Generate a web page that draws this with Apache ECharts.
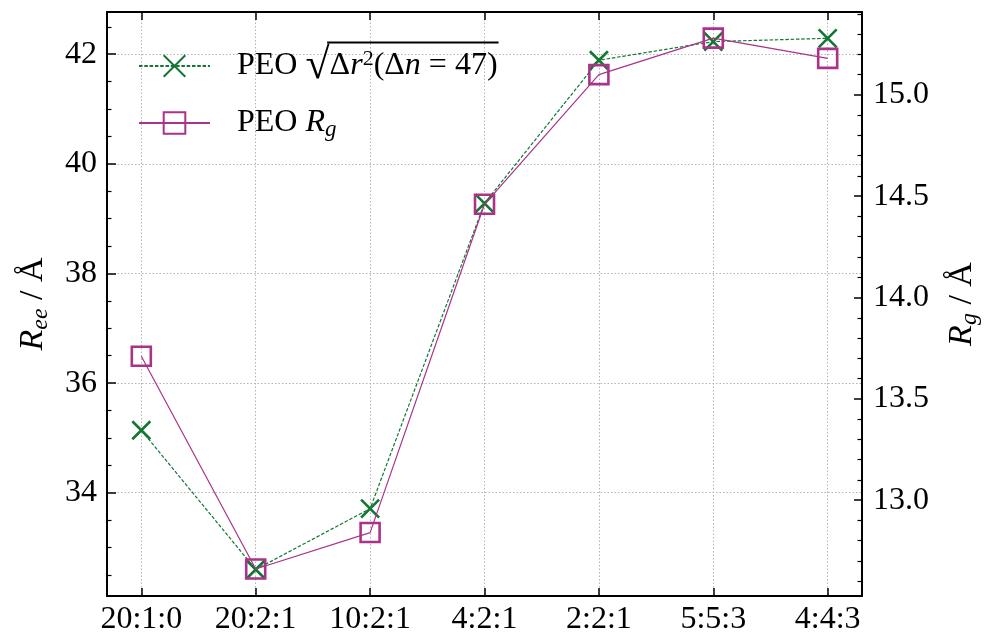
<!DOCTYPE html>
<html><head><meta charset="utf-8">
<script src="https://cdn.jsdelivr.net/npm/echarts@6/dist/echarts.min.js"></script>
<style>html,body{margin:0;padding:0;background:#fff}#c{width:990px;height:636px}</style>
</head><body><div id="c"></div>
<script>
// ---- data ----
const categories = ['20:1:0', '20:2:1', '10:2:1', '4:2:1', '2:2:1', '5:5:3', '4:4:3'];
const reeValues = [35.14, 32.60, 33.71, 39.28, 41.89, 42.23, 42.29];   // left axis, PEO sqrt(dr^2)
const rgValues  = [13.71, 12.66, 12.84, 14.46, 15.10, 15.28, 15.18];   // right axis, PEO Rg
const seriesNames = ['ree', 'rg'];

// ---- style ----
const FONT = "'Liberation Serif', 'DejaVu Serif', serif";
const FS = 32;
const GREEN = '#117733';
const MAGENTA = '#AA3388';
const GRID_LINE = { show: true, lineStyle: { color: '#b3b3b3', width: 1, type: [1.5, 2] } };
const crossPath = 'path://M0,0L10,10M10,0L0,10';

const chart = echarts.init(document.getElementById('c'), null, { renderer: 'canvas' });

function isMult(v, step) { const r = v / step; return Math.abs(r - Math.round(r)) < 1e-6; }

const axisLineStyle = { show: true, onZero: false, lineStyle: { color: '#000', width: 2 } };
const tickStyle = { color: '#000', width: 1.5 };

// legend geometry (for the square-root overline decoration)
const LEG_LEFT = 133, LEG_TOP = 39, LEG_PAD = 5, ICON_W = 71, T_PAD = 22, SQ_FS = 44, SUP_FS = 22;
const ctx = document.createElement('canvas').getContext('2d');
function tw(text, size, italic) { ctx.font = (italic ? 'italic ' : '') + size + 'px ' + FONT; return ctx.measureText(text).width; }
const textX = LEG_LEFT + LEG_PAD + ICON_W + 5 + T_PAD;
const sqX = textX + tw('PEO ', FS);
const olX1 = sqX + tw('√', SQ_FS) - 1.5;
const olX2 = olX1 + 1.5 + tw('Δ', FS) + tw('r', FS, true) + tw('2', SUP_FS) + tw('(Δ', FS) + tw('n', FS, true) + tw(' = 47)', FS) + 2;
const olY = 42.5;

const nameRich = {
  i: { fontFamily: FONT, fontSize: 34, lineHeight: 40, fontStyle: 'italic' },
  sub: { fontFamily: FONT, fontSize: 24, lineHeight: 14, verticalAlign: 'bottom', fontStyle: 'italic' },
  n: { fontFamily: FONT, fontSize: 34, lineHeight: 40 }
};

const option = {
  backgroundColor: '#fff',
  animation: false,
  textStyle: { fontFamily: FONT },
  grid: { left: 107, right: 125, top: 12, bottom: 39, containLabel: false },
  legend: {
    orient: 'vertical', left: LEG_LEFT, top: LEG_TOP, padding: LEG_PAD,
    itemWidth: ICON_W, itemHeight: 27, itemGap: 19,
    selectedMode: false,
    data: seriesNames,
    textStyle: {
      fontFamily: FONT, fontSize: FS, color: '#000',
      rich: {
        t: { fontFamily: FONT, fontSize: FS, lineHeight: 36, padding: [0, 0, 0, T_PAD] },
        m: { fontFamily: FONT, fontSize: FS, lineHeight: 36 },
        i: { fontFamily: FONT, fontSize: FS, lineHeight: 36, fontStyle: 'italic' },
        sq: { fontFamily: FONT, fontSize: SQ_FS, lineHeight: 36 },
        sup: { fontFamily: FONT, fontSize: SUP_FS, lineHeight: 24, verticalAlign: 'top' },
        sub: { fontFamily: FONT, fontSize: 23, lineHeight: 14, verticalAlign: 'bottom', fontStyle: 'italic' }
      }
    },
    formatter: function (name) {
      if (name === 'ree') return '{t|PEO }{sq|√}{m|Δ}{i|r}{sup|2}{m|(Δ}{i|n}{m| = 47)}';
      return '{t|PEO }{i|R}{sub|g}';
    }
  },
  xAxis: [{
    type: 'value', position: 'bottom', min: -0.3, max: 6.3, splitNumber: 5,
    axisLine: axisLineStyle,
    axisTick: { show: true, inside: true, length: 8, lineStyle: tickStyle },
    axisLabel: {
      margin: 8, color: '#000', fontSize: FS, fontFamily: FONT,
      formatter: function (v) { const i = Math.round(v); return isMult(v, 1) && categories[i] !== undefined ? categories[i] : ''; }
    },
    splitLine: GRID_LINE
  }, {
    type: 'value', position: 'top', min: -0.3, max: 6.3, splitNumber: 5,
    axisLine: axisLineStyle,
    axisTick: { show: true, inside: true, length: 8, lineStyle: tickStyle },
    axisLabel: { show: false },
    splitLine: { show: false }
  }],
  yAxis: [{
    type: 'value', position: 'left', min: 32.116, max: 42.77, splitNumber: 5,
    axisLine: axisLineStyle,
    axisTick: { show: true, inside: true, length: 9, lineStyle: tickStyle },
    minorTick: { show: true, splitNumber: 4, length: 4.5, lineStyle: { color: '#000', width: 1.2 } },
    axisLabel: {
      margin: 10, color: '#000', fontSize: FS, fontFamily: FONT,
      formatter: function (v) { return isMult(v, 1) ? String(Math.round(v)) : ''; }
    },
    splitLine: GRID_LINE,
    name: '{i|R}{sub|ee}{n| / Å}', nameLocation: 'middle', nameGap: 54, nameRotate: 90,
    nameTextStyle: { color: '#000', fontFamily: FONT, fontSize: 34, rich: nameRich }
  }, {
    type: 'value', position: 'right', min: 12.527, max: 15.409, splitNumber: 5,
    axisLine: axisLineStyle,
    axisTick: { show: true, inside: true, length: 8, lineStyle: tickStyle },
    minorTick: { show: true, splitNumber: 5, length: 4.5, lineStyle: { color: '#000', width: 1.2 } },
    axisLabel: {
      margin: 11, color: '#000', fontSize: FS, fontFamily: FONT,
      formatter: function (v) { return isMult(v, 0.5) ? v.toFixed(1) : ''; }
    },
    splitLine: { show: false },
    name: '{i|R}{sub|g}{n| / Å}', nameLocation: 'middle', nameGap: 80, nameRotate: 90,
    nameTextStyle: { color: '#000', fontFamily: FONT, fontSize: 34, rich: nameRich }
  }],
  graphic: [{
    type: 'line', silent: true, z: 100,
    shape: { x1: olX1, y1: olY, x2: olX2, y2: olY },
    style: { stroke: '#000', lineWidth: 2 }
  }],
  series: [{
    name: 'ree', type: 'line', xAxisIndex: 0, yAxisIndex: 0,
    data: reeValues.map(function (v, i) { return [i, v]; }),
    symbol: crossPath, symbolSize: 18, showAllSymbol: true,
    lineStyle: { color: GREEN, width: 1.2, type: [3.5, 1.8] },
    itemStyle: { color: GREEN, borderColor: GREEN, borderWidth: 2.6 },
    emphasis: { disabled: true }, z: 2
  }, {
    name: 'rg', type: 'line', xAxisIndex: 0, yAxisIndex: 1,
    data: rgValues.map(function (v, i) { return [i, v]; }),
    symbol: 'rect', symbolSize: 19, showAllSymbol: true,
    lineStyle: { color: MAGENTA, width: 1.2 },
    itemStyle: { color: 'rgba(0,0,0,0)', borderColor: MAGENTA, borderWidth: 2.6 },
    emphasis: { disabled: true }, z: 3
  }]
};
chart.setOption(option);
</script>
</body></html>
